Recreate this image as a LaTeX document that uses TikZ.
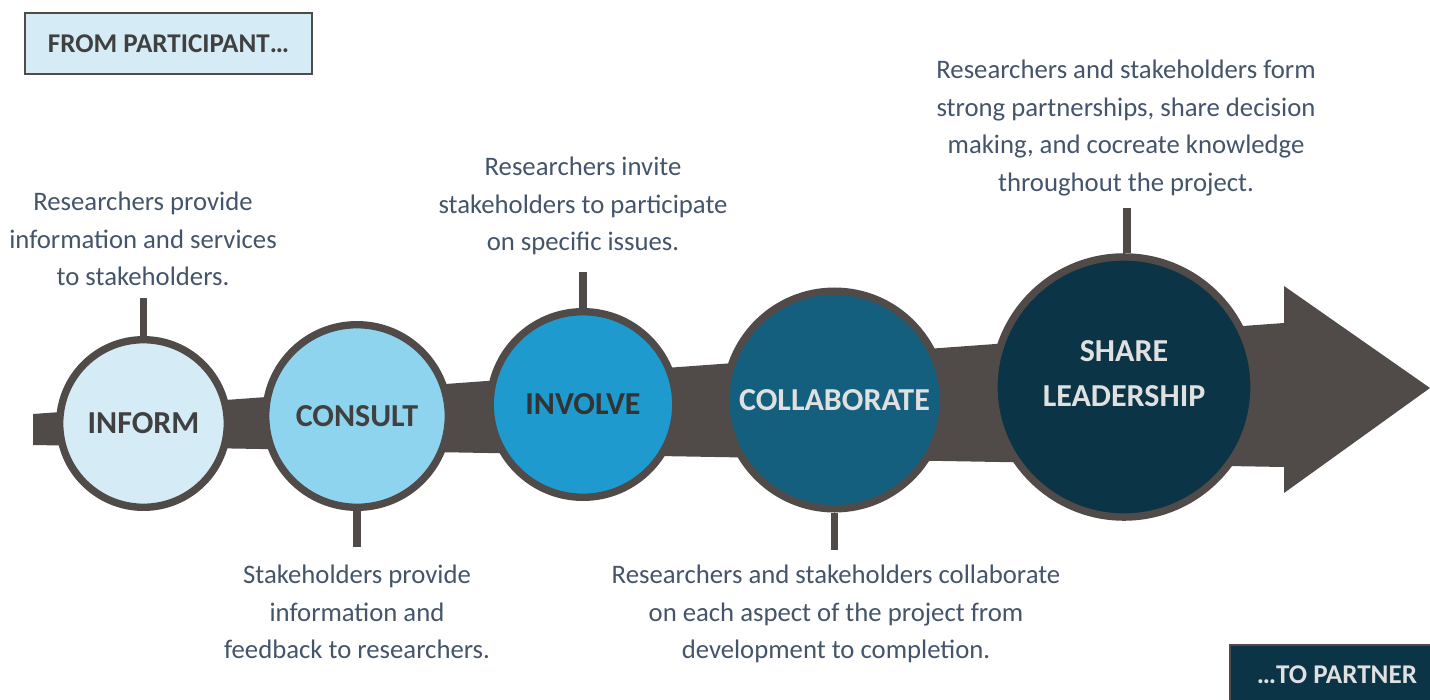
\documentclass[tikz,border=0pt]{standalone}
\usepackage{fontspec}
\setmainfont{Carlito}
\usepackage{xcolor}
\usepackage{tikz}
\definecolor{band}{RGB}{80,75,72}
\definecolor{txtblue}{RGB}{68,84,106}
\definecolor{inform}{RGB}{213,236,247}
\definecolor{consult}{RGB}{142,212,239}
\definecolor{involve}{RGB}{30,154,207}
\definecolor{collab}{RGB}{21,95,126}
\definecolor{share}{RGB}{11,52,70}
\definecolor{lbldark}{RGB}{64,64,64}
\definecolor{lbllight}{RGB}{224,224,224}
\tikzset{
    stage/.style={circle,draw=band,line width=2.1pt,inner sep=0pt,align=center,font=\fontsize{9.1}{12.8}\selectfont\bfseries},
    desc/.style={text=txtblue,align=center,font=\fontsize{7.6}{10.7}\selectfont},
    stem/.style={draw=band,line width=2pt},
    tag/.style={rectangle,draw=band,line width=0.6pt,inner sep=0pt,font=\fontsize{7.7}{9}\selectfont\bfseries}
}

\begin{document}
\begin{tikzpicture}[x=0.01cm,y=-0.01cm]
        \useasboundingbox (0,0) rectangle (1430,700);
        \fill[band] (33,414) -- (1284,323) -- (1284,286) -- (1430,388) -- (1284,493) -- (1284,467) -- (33,445) -- cycle;
        \node[stage,fill=inform,text=lbldark,minimum size=1.675cm] (inform) at (143.5,423.5) {INFORM};
        \node[stage,fill=consult,text=lbldark,minimum size=1.825cm] (consult) at (357,416) {CONSULT};
        \node[stage,fill=involve,text=lbldark!80!black,minimum size=1.855cm] (involve) at (583,404.5) {INVOLVE};
        \node[stage,fill=collab,text=lbllight,minimum size=2.175cm] (collab) at (834.5,400) {COLLABORATE};
        \node[stage,fill=share,minimum size=2.6cm] (share) at (1124,387) {};
        \node[text=lbllight,align=center,font=\fontsize{9.1}{12.8}\selectfont\bfseries] (sharetxt) at (1124,374) {SHARE\\LEADERSHIP};
        \draw[stem] (inform.north) -- ++(0,-38);
        \draw[stem] (consult.south) -- ++(0,36);
        \draw[stem] (involve.north) -- ++(0,-36);
        \draw[stem] (collab.south) -- ++(0,37);
        \draw[stem] ([xshift=0.03cm]share.north) -- ++(0,-45);
        \node[desc] (dinform) at (143,239) {Researchers provide\\information and services\\to stakeholders.};
        \node[desc] (dinvolve) at (583,206) {Researchers invite\\stakeholders to participate\\on specific issues.};
        \node[desc] (dshare) at (1126,128) {Researchers and stakeholders form\\strong partnerships, share decision\\making, and cocreate knowledge\\throughout the project.};
        \node[desc] (dconsult) at (357,612) {Stakeholders provide\\information and\\feedback to researchers.};
        \node[desc] (dcollab) at (836,614) {Researchers and stakeholders collaborate\\on each aspect of the project from\\development to completion.};
        \node[tag,fill=inform,text=lbldark,minimum width=2.87cm,minimum height=0.61cm] (from) at (168.5,43.5) {FROM PARTICIPANT…};
        \node[tag,fill=share,text=lbllight,minimum width=2.14cm,minimum height=0.60cm] (to) at (1337,675) {…TO PARTNER};
\end{tikzpicture}
\end{document}
